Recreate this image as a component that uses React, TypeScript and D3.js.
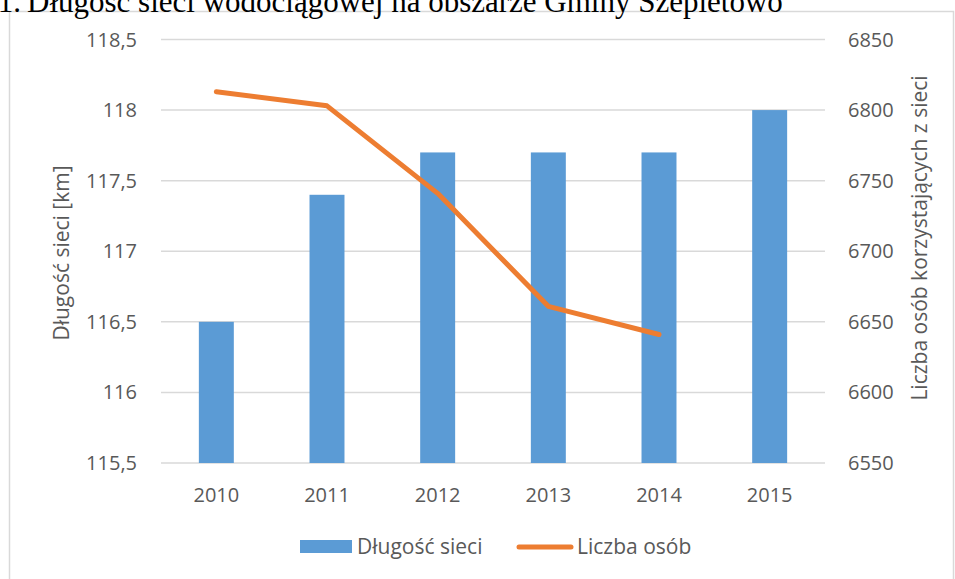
import React, { useEffect, useRef } from 'react';
import * as d3 from 'd3';

const years = ['2010', '2011', '2012', '2013', '2014', '2015'];
const dlugoscSieci = [116.5, 117.4, 117.7, 117.7, 117.7, 118];
const liczbaOsob = [6813, 6803, 6741, 6661, 6641];
const leftTicks = [115.5, 116, 116.5, 117, 117.5, 118, 118.5];
const rightTicks = [6550, 6600, 6650, 6700, 6750, 6800, 6850];

const fmtLeft = (v: number) => String(v).replace('.', ',');

export default function App() {
  const ref = useRef<SVGSVGElement | null>(null);

  useEffect(() => {
    const width = 955;
    const height = 579;
    const left = 161, right = 825, top = 39.5, bottom = 463;
    const font = '"Open Sans", sans-serif';

    const svg = d3.select(ref.current);
    svg.selectAll('*').remove();
    svg.attr('width', width).attr('height', height);

    svg.append('rect').attr('width', width).attr('height', height).attr('fill', '#fff');

    // ramka wykresu
    svg.append('rect')
      .attr('x', 9.5).attr('y', 11.5)
      .attr('width', 944).attr('height', 600)
      .attr('fill', 'none').attr('stroke', '#d9d9d9').attr('stroke-width', 1.5);

    // obcięty tytuł
    const title = svg.append('g').style('font-family', '"Liberation Serif", "Times New Roman", serif')
      .style('font-size', '31px').attr('fill', '#000');
    title.append('text').attr('x', 21).attr('y', 12).attr('text-anchor', 'end').text('1.');
    title.append('text').attr('x', 27).attr('y', 12).text('Długość sieci wodociągowej na obszarze Gminy Szepietowo');

    const x = d3.scaleBand().domain(years).range([left, right]).paddingInner(0).paddingOuter(0);
    const yL = d3.scaleLinear().domain([115.5, 118.5]).range([bottom, top]);
    const yR = d3.scaleLinear().domain([6550, 6850]).range([bottom, top]);

    // siatka
    svg.append('g').selectAll('line').data(leftTicks).enter().append('line')
      .attr('x1', left).attr('x2', right)
      .attr('y1', d => yL(d)).attr('y2', d => yL(d))
      .attr('stroke', '#d9d9d9').attr('stroke-width', 1.5);

    // słupki
    const bw = x.bandwidth() * 0.316;
    svg.append('g').selectAll('rect').data(dlugoscSieci).enter().append('rect')
      .attr('x', (d, i) => (x(years[i]) as number) + x.bandwidth() / 2 - bw / 2)
      .attr('width', bw)
      .attr('y', d => yL(d))
      .attr('height', d => yL(115.5) - yL(d))
      .attr('fill', '#5B9BD5');

    // linia
    const line = d3.line<number>()
      .x((d, i) => (x(years[i]) as number) + x.bandwidth() / 2)
      .y(d => yR(d));
    svg.append('path').datum(liczbaOsob)
      .attr('d', line)
      .attr('fill', 'none').attr('stroke', '#ED7D31').attr('stroke-width', 5)
      .attr('stroke-linecap', 'round').attr('stroke-linejoin', 'round');

    const txt = svg.append('g').style('font-family', font).style('font-size', '20px').attr('fill', '#595959');

    txt.selectAll('.tl').data(leftTicks).enter().append('text')
      .attr('x', 137).attr('y', d => yL(d) + 7).attr('text-anchor', 'end').text(d => fmtLeft(d));
    txt.selectAll('.tr').data(rightTicks).enter().append('text')
      .attr('x', 848).attr('y', d => yR(d) + 7).text(d => String(d));
    txt.selectAll('.tx').data(years).enter().append('text')
      .attr('x', d => (x(d) as number) + x.bandwidth() / 2).attr('y', 502)
      .attr('text-anchor', 'middle').text(d => d);

    txt.append('text')
      .attr('transform', 'translate(69,253) rotate(-90)')
      .style('font-size', '21px')
      .attr('text-anchor', 'middle').text('Długość sieci [km]');
    txt.append('text')
      .attr('transform', 'translate(927,238) rotate(-90)')
      .style('font-size', '21px')
      .attr('text-anchor', 'middle').text('Liczba osób korzystających z sieci');

    // legenda
    svg.append('rect').attr('x', 300).attr('y', 540).attr('width', 52).attr('height', 13).attr('fill', '#5B9BD5');
    txt.append('text').attr('x', 357).attr('y', 554).style('font-size', '21px').text('Długość sieci');
    svg.append('line').attr('x1', 519).attr('x2', 571).attr('y1', 547).attr('y2', 547)
      .attr('stroke', '#ED7D31').attr('stroke-width', 5).attr('stroke-linecap', 'round');
    txt.append('text').attr('x', 577).attr('y', 554).style('font-size', '21px').text('Liczba osób');
  }, []);

  return <svg ref={ref} style={{ position: 'absolute', left: 0, top: 0 }} />;
}
